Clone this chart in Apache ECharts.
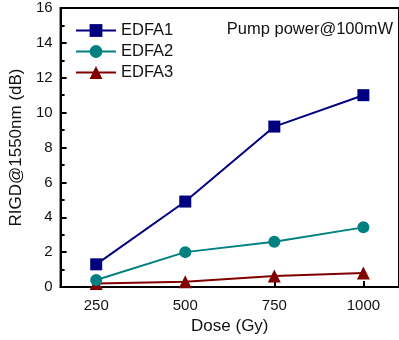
<!DOCTYPE html>
<html><head><meta charset="utf-8">
<script src="https://cdn.jsdelivr.net/npm/echarts@6/dist/echarts.min.js"></script>
<style>html,body{margin:0;padding:0;background:#fff}#c{width:399px;height:340px}</style>
</head><body><div id="c"></div>
<script>
const doses = [250, 500, 750, 1000];
const edfa1 = [1.3, 4.9, 9.2, 11.0];
const edfa2 = [0.4, 2.0, 2.6, 3.42];
const edfa3 = [0.2, 0.3, 0.63, 0.8];
const xTicks = [250, 500, 750, 1000];
const seriesNames = ['EDFA1', 'EDFA2', 'EDFA3'];
const annotation = 'Pump power@100mW';

const font = 'Liberation Sans, Arial, sans-serif';
const colors = ['#00007f', '#008080', '#800000'];
const symbols = ['rect', 'circle', 'triangle'];
const sizes = [12, 12, 13];
const data = [edfa1, edfa2, edfa3];

const chart = echarts.init(document.getElementById('c'));
chart.setOption({
  animation: false,
  textStyle: { fontFamily: font },
  grid: { left: 52, top: 8, width: 349, bottom: 53, show: true, borderColor: '#000', borderWidth: 2 },
  graphic: [{ type: 'text', right: 6, top: 21, style: { text: annotation, font: '16.5px ' + font, fill: '#111' } }],
  legend: {
    orient: 'vertical', left: 75, top: 22, padding: 0, itemWidth: 40, itemHeight: 16, itemGap: 4,
    textStyle: { fontSize: 16.5, color: '#111', fontFamily: font, lineHeight: 16 },
    data: seriesNames
  },
  xAxis: {
    type: 'value', min: 150, max: 1100,
    name: 'Dose (Gy)', nameLocation: 'middle', nameGap: 28,
    nameTextStyle: { fontSize: 17, color: '#111' },
    axisLine: { lineStyle: { color: '#000', width: 2 } },
    axisTick: { show: true, inside: true, length: 6, lineStyle: { color: '#000', width: 2 }, customValues: xTicks },
    axisLabel: { fontSize: 15, color: '#111', margin: 11, customValues: xTicks, formatter: v => String(v) },
    splitLine: { show: false }
  },
  yAxis: {
    type: 'value', min: 0, max: 16, interval: 2,
    name: 'RIGD@1550nm (dB)', nameLocation: 'middle', nameGap: 35,
    nameTextStyle: { fontSize: 17, color: '#111' },
    axisLine: { show: true, lineStyle: { color: '#000', width: 2 } },
    axisTick: { show: true, inside: true, length: 6, lineStyle: { color: '#000', width: 2 } },
    minorTick: { show: true, splitNumber: 2, length: 4, lineStyle: { color: '#000', width: 2 } },
    axisLabel: { fontSize: 15, color: '#111', margin: 8 },
    splitLine: { show: false }
  },
  series: seriesNames.map((n, i) => ({
    name: n, type: 'line', symbol: symbols[i], symbolSize: sizes[i],
    data: doses.map((d, j) => [d, data[i][j]]),
    lineStyle: { color: colors[i], width: 2 },
    itemStyle: { color: colors[i] },
    z: 3 - i
  }))
});
</script></body></html>
